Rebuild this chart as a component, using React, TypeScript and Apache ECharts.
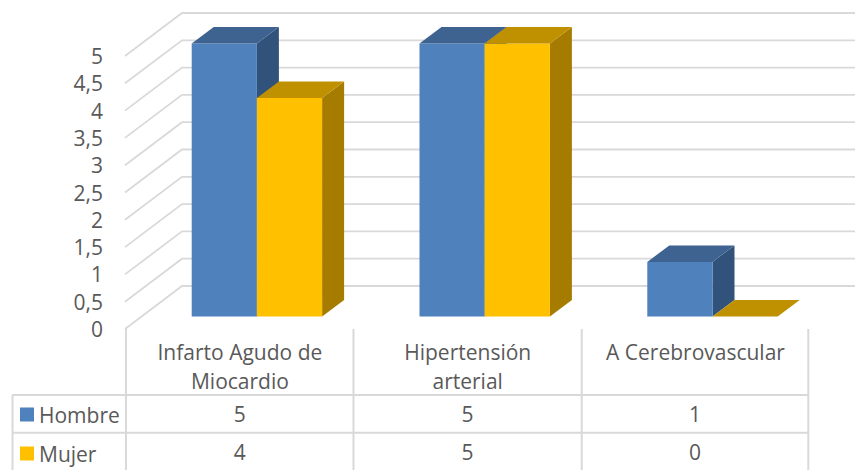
import React, { useEffect, useRef } from "react";
import * as echarts from "echarts";

const categories = ["Infarto Agudo de\nMiocardio", "Hipertensión\narterial", "A Cerebrovascular"];
const hombre = [5, 5, 1];
const mujer = [4, 5, 0];
const gridTicks = [0, 0.5, 1, 1.5, 2, 2.5, 3, 3.5, 4, 4.5, 5];

const FONT = "'Open Sans', sans-serif";
const TEXT = "#595959";
const LINE = "#d9d9d9";

function bar3d(colors: { front: string; top: string; side: string }, slot: number) {
  return (params: any, api: any) => {
    const i = api.value(0);
    const v = api.value(1);
    const band = api.size([1, 0])[0];
    const cx = api.coord([i, 0])[0];
    const base = api.coord([i, 0])[1] - 12.5;
    const topY = api.coord([i, v])[1] - 12.5;
    const x0 = cx - band / 2 + 65.7 + slot * 65.2;
    const x1 = x0 + 65.2;
    const dx = 22;
    const dy = -16.5;
    const children: any[] = [];
    if (v > 0) {
      children.push({
        type: "polygon",
        shape: { points: [[x1, topY], [x1 + dx, topY + dy], [x1 + dx, base + dy], [x1, base]] },
        style: { fill: colors.side },
      });
      children.push({
        type: "rect",
        shape: { x: x0, y: topY, width: 65.2, height: base - topY },
        style: { fill: colors.front },
      });
    }
    children.push({
      type: "polygon",
      shape: { points: [[x0, topY], [x0 + dx, topY + dy], [x1 + dx, topY + dy], [x1, topY]] },
      style: { fill: colors.top },
    });
    return { type: "group", children };
  };
}

function wallLine(params: any, api: any) {
  const v = api.value(0);
  const band = api.size([1, 0])[0];
  const [cx, y] = api.coord([0, v]);
  const left = cx - band / 2;
  return {
    type: "polyline",
    shape: { points: [[left - 1, y], [left + 56, y - 43], [855, y - 43]] },
    style: { stroke: LINE, fill: "none", lineWidth: 1.8 },
    silent: true,
  };
}

const tableCols = [126, 353.5, 581.7, 808.3];
const tableRows = [395, 432.7];

export default function App() {
  const ref = useRef<HTMLDivElement>(null);
  useEffect(() => {
    document.body.style.margin = "0";
    const chart = echarts.init(ref.current!, undefined, { renderer: "svg" });
    const lines: any[] = [];
    tableCols.forEach((x) =>
      lines.push({ type: "line", shape: { x1: x, y1: 329, x2: x, y2: 470 }, style: { stroke: LINE, lineWidth: 2 } })
    );
    lines.push({ type: "line", shape: { x1: 12.5, y1: 395, x2: 12.5, y2: 470 }, style: { stroke: LINE, lineWidth: 2 } });
    tableRows.forEach((y) =>
      lines.push({ type: "line", shape: { x1: 12, y1: y, x2: 808.3, y2: y }, style: { stroke: LINE, lineWidth: 2 } })
    );
    const cells: any[] = [];
    [hombre, mujer].forEach((arr, r) =>
      arr.forEach((v, c) =>
        cells.push({
          type: "text",
          x: (tableCols[c] + tableCols[c + 1]) / 2,
          y: r === 0 ? 414 : 452,
          style: { text: String(v), fill: TEXT, font: `21px ${FONT}`, textAlign: "center", textVerticalAlign: "middle" },
        })
      )
    );
    chart.setOption({
      animation: false,
      backgroundColor: "#fff",
      grid: { left: 126, right: 45.6, top: 56, bottom: 141 },
      xAxis: {
        type: "category",
        data: categories,
        axisLine: { show: false },
        axisTick: { show: false },
        axisLabel: {
          interval: 0,
          margin: 9,
          color: TEXT,
          fontFamily: FONT,
          fontSize: 21,
          lineHeight: 28.5,
          verticalAlign: "top",
        },
      },
      yAxis: {
        type: "value",
        min: 0,
        max: 5,
        interval: 0.5,
        splitLine: { show: false },
        axisLine: { show: false },
        axisTick: { show: false },
        axisLabel: {
          margin: 23,
          color: TEXT,
          fontFamily: FONT,
          fontSize: 21,
          formatter: (v: number) => String(v).replace(".", ","),
        },
      },
      legend: {
        data: ["Hombre", "Mujer"],
        orient: "vertical",
        left: 20,
        top: 404,
        padding: 0,
        itemWidth: 14,
        itemHeight: 14,
        itemGap: 18,
        icon: "rect",
        selectedMode: false,
        textStyle: { color: TEXT, fontFamily: FONT, fontSize: 21, lineHeight: 20, padding: [0, 0, 0, 0] },
      },
      series: [
        {
          type: "custom",
          name: "grid",
          data: gridTicks.map((v) => [v]),
          encode: { y: 0 },
          renderItem: wallLine,
          silent: true,
          z: 1,
        },
        {
          type: "custom",
          name: "Hombre",
          data: hombre.map((v, i) => [i, v]),
          encode: { x: 0, y: 1 },
          itemStyle: { color: "#4f81bd" },
          renderItem: bar3d({ front: "#4f81bd", top: "#3e6390", side: "#31527b" }, 0),
          z: 2,
        },
        {
          type: "custom",
          name: "Mujer",
          data: mujer.map((v, i) => [i, v]),
          encode: { x: 0, y: 1 },
          itemStyle: { color: "#ffc000" },
          renderItem: bar3d({ front: "#ffc000", top: "#bf9000", side: "#a67c00" }, 1),
          z: 3,
        },
      ],
      graphic: [...lines, ...cells],
    });
    return () => chart.dispose();
  }, []);
  return <div ref={ref} style={{ position: "fixed", left: 0, top: 0, width: 855, height: 470 }} />;
}
